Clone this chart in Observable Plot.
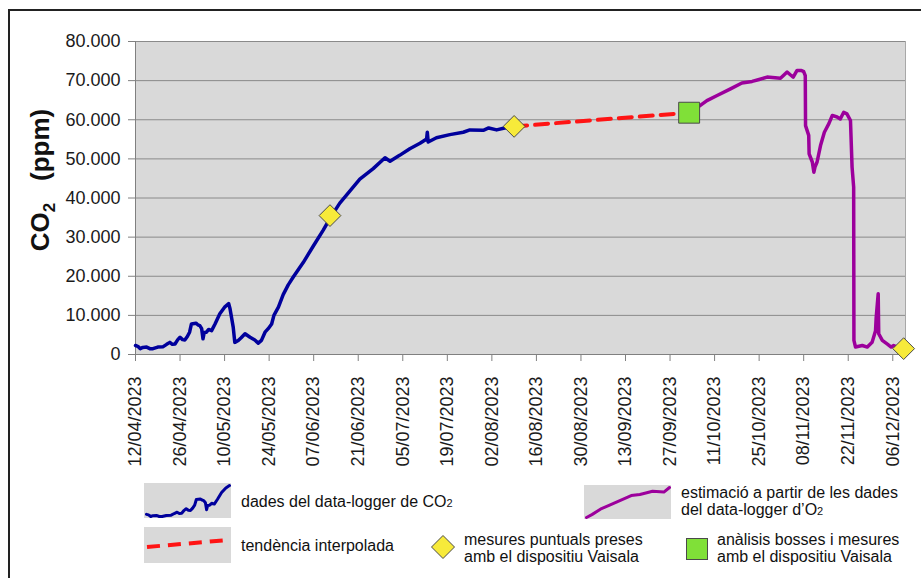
<!DOCTYPE html>
<html>
<head>
<meta charset="utf-8">
<script src="https://cdn.jsdelivr.net/npm/d3@7"></script>
<script src="https://cdn.jsdelivr.net/npm/@observablehq/plot@0.6"></script>
<style>
  body { margin: 0; background: #fff; font-family: "Liberation Sans", Arial, sans-serif; }
  #wrap { position: relative; width: 921px; height: 578px; overflow: hidden; background: #fff; }
  #frame { position: absolute; left: 8px; top: 9px; width: 960px; height: 620px; border: 2.5px solid #222; box-sizing: border-box; }
  #chart { position: absolute; left: 0; top: 0; }
  .box { position: absolute; background: #d9d9d9; }
  .lg { position: absolute; font-size: 16px; line-height: 16.5px; color: #111; white-space: nowrap; }
  .sm { font-size: 11px; }
</style>
</head>
<body>
<div id="wrap">
  <div id="frame"></div>
  <div id="chart"></div>
  <div id="legend"></div>
</div>
<script>
// ---------- data ----------
// CO2 data-logger (blue)
const blueDates = [
  "2023-04-12T00","2023-04-12T17","2023-04-13T12","2023-04-14T07","2023-04-15T12","2023-04-16T12",
  "2023-04-17T12","2023-04-19T00","2023-04-20T17","2023-04-21T19","2023-04-22T19","2023-04-23T14",
  "2023-04-24T10","2023-04-25T07","2023-04-26T00","2023-04-26T19","2023-04-27T12","2023-04-28T07",
  "2023-04-29T00","2023-04-29T14","2023-05-01T00","2023-05-01T14","2023-05-02T05","2023-05-02T19",
  "2023-05-03T05","2023-05-03T14","2023-05-04T07","2023-05-05T00","2023-05-05T22","2023-05-07T00",
  "2023-05-08T12","2023-05-10T00","2023-05-11T07","2023-05-11T17","2023-05-12T17","2023-05-13T05",
  "2023-05-14T07","2023-05-15T05","2023-05-16T10","2023-05-18T00","2023-05-19T12","2023-05-20T14",
  "2023-05-21T14","2023-05-22T17","2023-05-23T17","2023-05-24T19","2023-05-25T12","2023-05-26T22",
  "2023-05-28T10","2023-05-30T00","2023-05-31T14","2023-06-03T17","2023-06-06T19","2023-06-10T00",
  "2023-06-12T12","2023-06-15T05","2023-06-18T10","2023-06-21T12","2023-06-25T17","2023-06-29T10",
  "2023-07-01T00","2023-07-04T00","2023-07-07T05","2023-07-10T10","2023-07-12T12","2023-07-12T17",
  "2023-07-13T00","2023-07-15T14","2023-07-19T19","2023-07-24T00","2023-07-26T02","2023-07-30T07",
  "2023-08-01T00","2023-08-03T12","2023-08-06T00","2023-08-08T19"
];
const blueValues = [
  2300,2100,1500,1800,1900,1500,
  1500,1900,2000,2600,3100,2600,
  2700,3800,4400,3800,3700,4600,
  5700,7800,8000,7600,7400,6600,
  4000,5600,5700,6400,6100,7800,
  10400,12100,13000,11700,7000,3100,
  3600,4300,5300,4400,3700,2900,
  3600,5700,6600,7800,10000,12100,
  15300,17800,19800,23500,27600,31800,
  35300,38700,41800,44800,47500,50300,
  49400,50900,52600,54000,55100,56800,
  54300,55400,56200,56800,57400,57300,
  57900,57400,57900,58100
];
// estimate from O2 data-logger (purple)
const purpleDates = [
  "2023-10-03T00","2023-10-05T00","2023-10-08T14","2023-10-11T19","2023-10-16T00","2023-10-19T14",
  "2023-10-22T19","2023-10-25T00","2023-10-27T12","2023-10-31T17","2023-11-02T19","2023-11-03T19",
  "2023-11-04T17","2023-11-05T22","2023-11-07T07","2023-11-08T00","2023-11-08T12","2023-11-08T14",
  "2023-11-09T14","2023-11-09T17","2023-11-10T17","2023-11-11T05","2023-11-11T14","2023-11-12T05",
  "2023-11-13T07","2023-11-14T12","2023-11-15T22","2023-11-17T00","2023-11-18T12","2023-11-19T12",
  "2023-11-20T14","2023-11-21T14","2023-11-22T17","2023-11-23T05","2023-11-23T17","2023-11-23T19",
  "2023-11-24T07","2023-11-26T10","2023-11-28T00","2023-11-29T12","2023-11-30T14","2023-11-30T19",
  "2023-12-01T10","2023-12-01T14","2023-12-02T17","2023-12-04T05","2023-12-05T12","2023-12-06T07",
  "2023-12-07T10"
];
const purpleValues = [
  61800,62800,64900,66200,67900,69400,
  69800,70300,70900,70600,72200,71500,
  70900,72600,72600,72300,71300,58500,
  56000,51300,49200,46600,48000,49200,
  53400,56800,59000,61100,60700,60200,
  61900,61500,59800,47900,42800,3600,
  1900,2300,1900,3100,6100,9500,
  15500,5300,3600,2700,1900,2300,
  1900
];
// interpolated trend (red dashed)
const trendDates = ["2023-08-09T00", "2023-10-03T00"];
const trendValues = [58300, 61800];
// point measurements with Vaisala device (yellow diamonds)
const vaisalaDates = ["2023-06-12T03", "2023-08-09T00", "2023-12-09T10"];
const vaisalaValues = [35500, 58300, 1500];
// bag analyses + Vaisala (green square)
const bagDates = ["2023-10-03T00"];
const bagValues = [61800];
// axis ticks
const yTicks = [0, 10000, 20000, 30000, 40000, 50000, 60000, 70000, 80000];
const xTickLabels = ["12/04/2023","26/04/2023","10/05/2023","24/05/2023","07/06/2023","21/06/2023",
  "05/07/2023","19/07/2023","02/08/2023","16/08/2023","30/08/2023","13/09/2023","27/09/2023",
  "11/10/2023","25/10/2023","08/11/2023","22/11/2023","06/12/2023"];
const xDomainLabels = ["12/04/2023", "10/12/2023"];

// ---------- build ----------
const parseT = s => new Date(s + ":00:00Z");
const parseDMY = d3.utcParse("%d/%m/%Y");
const fmtDMY = d3.utcFormat("%d/%m/%Y");
const zip = (ds, vs) => ds.map((d, i) => ({date: parseT(d), value: vs[i]}));
const blue = zip(blueDates, blueValues);
const purple = zip(purpleDates, purpleValues);
const trend = zip(trendDates, trendValues);
const vaisala = zip(vaisalaDates, vaisalaValues);
const bags = zip(bagDates, bagValues);
const xTicks = xTickLabels.map(parseDMY);
const xDomain = xDomainLabels.map(parseDMY);
const fmtY = d => d === 0 ? "0" : d3.format(",")(d).replace(/,/g, ".");

const BLUE = "#00009c", PURPLE = "#9c009c", RED = "#ff1414", YELLOW = "#f7ea3a", GREEN = "#80e038";

const chart = Plot.plot({
  width: 921, height: 470,
  marginLeft: 135, marginRight: 16, marginTop: 41, marginBottom: 116,
  style: {fontFamily: "Liberation Sans, Arial, sans-serif", fontSize: "18px", color: "#1a1a1a", background: "transparent"},
  x: {type: "utc", domain: xDomain},
  y: {domain: [0, 80000]},
  marks: [
    Plot.frame({fill: "#d9d9d9", stroke: "#a8a8a8"}),
    Plot.gridY(yTicks, {stroke: "#8a8a8a", strokeOpacity: 1}),
    Plot.ruleX([xDomain[0]], {stroke: "#808080"}),
    Plot.ruleY([0], {stroke: "#808080"}),
    Plot.axisY({ticks: yTicks, tickSize: 7, tickPadding: 8, tickFormat: fmtY, label: null, stroke: "#808080"}),
    Plot.axisX({ticks: xTicks, tickSize: 7, tickPadding: 15, tickRotate: -90, tickFormat: fmtDMY, label: null, stroke: "#808080"}),
    Plot.line(blue, {x: "date", y: "value", stroke: BLUE, strokeWidth: 3.5}),
    Plot.line(purple, {x: "date", y: "value", stroke: PURPLE, strokeWidth: 3.5}),
    Plot.line(trend, {x: "date", y: "value", stroke: RED, strokeWidth: 4, strokeDasharray: "13,8"}),
    Plot.dot(vaisala, {x: "date", y: "value", symbol: "diamond2", r: 9.8, fill: YELLOW, stroke: "#4a4a4a", strokeWidth: 1}),
    Plot.dot(bags, {x: "date", y: "value", symbol: "square", r: 11.8, fill: GREEN, stroke: "#4a4a4a", strokeWidth: 1})
  ]
});
document.getElementById("chart").appendChild(chart);

// y-axis title with subscript
const svg = d3.select(chart);
const title = svg.append("text")
  .attr("transform", "translate(49,180) rotate(-90)")
  .attr("text-anchor", "middle")
  .attr("font-family", "Liberation Sans, Arial, sans-serif")
  .attr("font-weight", "bold").attr("font-size", 26).attr("fill", "#111");
title.append("tspan").text("CO");
title.append("tspan").attr("font-size", 17).attr("dy", 6).text("2");
title.append("tspan").attr("dy", -6).text("\u00a0\u00a0\u00a0(ppm)");

// ---------- legend ----------
const legend = document.getElementById("legend");
function add(html) { legend.insertAdjacentHTML("beforeend", html); }

function swatch(data, color, left, top, w, h) {
  const p = Plot.plot({
    width: w, height: h, margin: 2, marginTop: 2, marginBottom: 2,
    x: {axis: null}, y: {axis: null},
    style: {background: "#d9d9d9"},
    marks: [Plot.line(data, {x: "date", y: "value", stroke: color, strokeWidth: 3})]
  });
  p.style.position = "absolute"; p.style.left = left + "px"; p.style.top = top + "px";
  legend.appendChild(p);
}
swatch(blue.filter(d => d.date <= parseT("2023-05-11T07")), BLUE, 144, 483, 87, 35);
swatch(purple.filter(d => d.date <= parseT("2023-11-02T19")), PURPLE, 584, 485, 87, 34);

add(`<div class="lg" style="left:241px;top:494px">dades del data-logger de CO<span class="sm">2</span></div>`);
add(`<div class="box" style="left:144px;top:527px;width:87px;height:36px">
  <svg width="87" height="36"><line x1="3" y1="20" x2="84" y2="13" stroke="${RED}" stroke-width="4" stroke-dasharray="13,8"/></svg></div>`);
add(`<div class="lg" style="left:241px;top:538px">tendència interpolada</div>`);
add(`<svg style="position:absolute;left:430px;top:534px" width="26" height="26">
  <polygon points="13,1.5 24.5,13 13,24.5 1.5,13" fill="${YELLOW}" stroke="#4a4a4a" stroke-width="1"/></svg>`);
add(`<div class="lg" style="left:464px;top:532px">mesures puntuals preses<br>amb el dispositiu Vaisala</div>`);
add(`<div class="lg" style="left:681px;top:485px">estimació a partir de les dades<br>del data-logger d’O<span class="sm">2</span></div>`);
add(`<svg style="position:absolute;left:686px;top:538px" width="22" height="22">
  <rect x="0.5" y="0.5" width="21" height="21" fill="${GREEN}" stroke="#4a4a4a" stroke-width="1"/></svg>`);
add(`<div class="lg" style="left:717px;top:532px">anàlisis bosses i mesures<br>amb el dispositiu Vaisala</div>`);
</script>
</body>
</html>
